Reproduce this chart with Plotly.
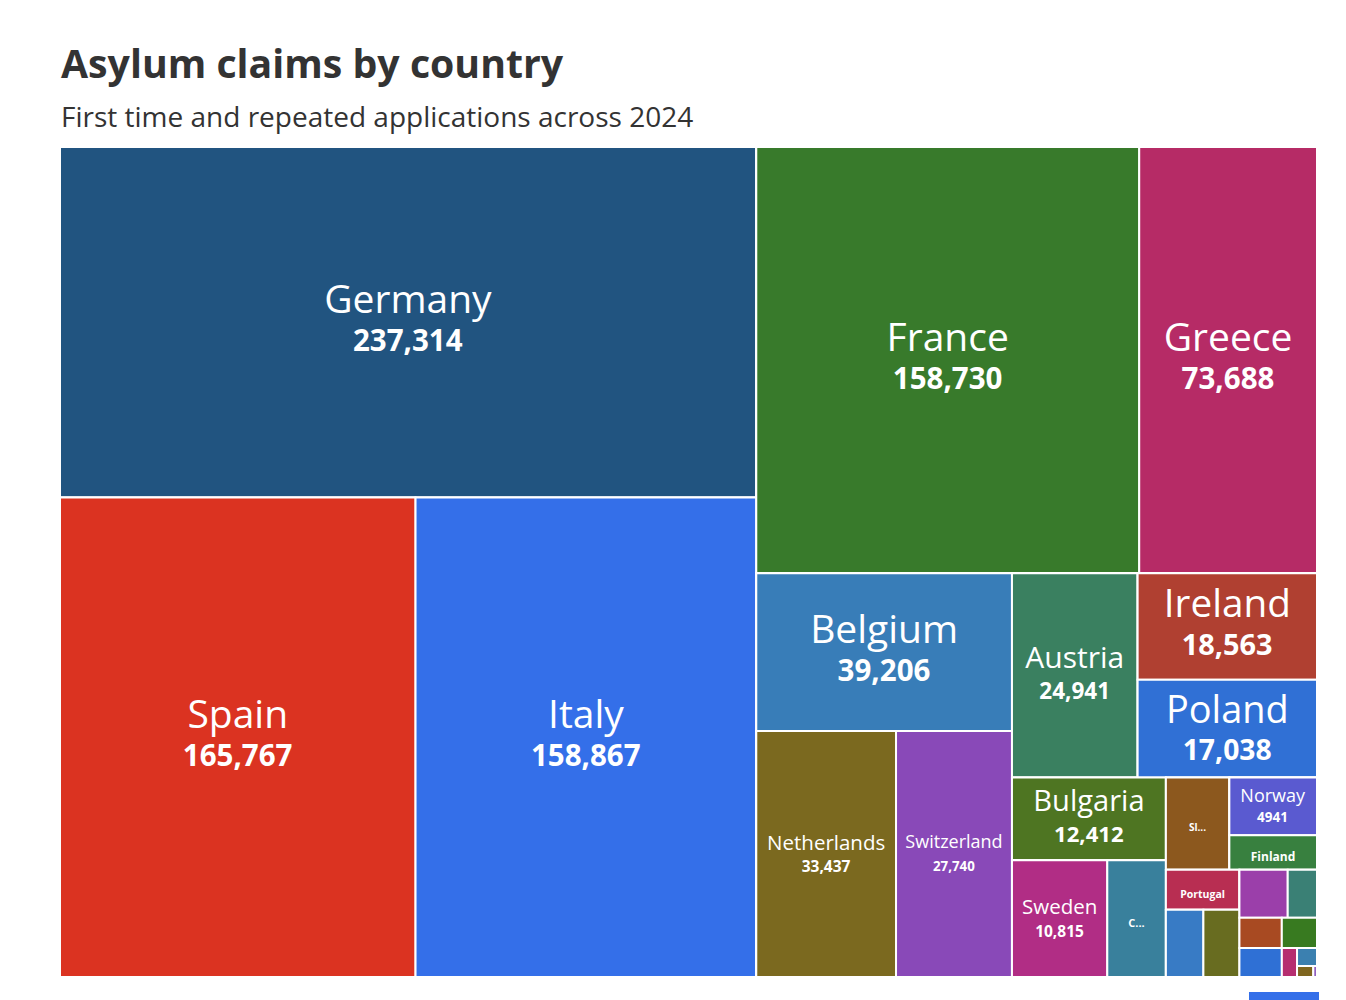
import plotly.graph_objects as go

# Leaves: country names and claims (small unlabelled tiles are estimated from their area)
countries = ["Germany","Spain","Italy","France","Greece","Belgium","Netherlands","Switzerland","Austria","Ireland","Poland","Bulgaria","Sweden","Cyprus","Slovenia","Norway","Finland","Portugal","Romania","Croatia","Luxembourg","Denmark","Czechia","Malta","Slovakia","Iceland","Hungary","Lithuania","Latvia"]
claims = [237314,165767,158867,158730,73688,39206,33437,27740,24941,18563,17038,12412,10815,6650,5695,4941,2924,2870,2450,2355,2260,1370,1240,1030,1200,430,350,175,40]
country_parent = ["A","SI","SI","B1","B1","B2L","NS","NS","R1","IP","IP","R2L","SC","SC","T","NF","NF","U1","PO","PO","V","V","W1","W1","W2","W2","W3","W4","W4"]

# Grouping of the tiles
groups = ["all","A","SI","B","B1","B2","B2L","NS","B2R","R1","IP","R2","R2L","SC","R2R","T","NF","U","U1","PO","U2","V","W1","W2","W3","W4"]
group_parent = ["","all","A","all","B","B","B2","B2L","B2","B2R","R1","B2R","R2","R2L","R2","R2R","T","R2R","U","U1","U","U2","U2","U2","W2","W3"]

# Displayed text
shown = ["Germany","Spain","Italy","France","Greece","Belgium","Netherlands","Switzerland","Austria","Ireland","Poland","Bulgaria","Sweden","C...","Sl...","Norway","Finland","Portugal"]
shown_values = ["237,314","165,767","158,867","158,730","73,688","39,206","33,437","27,740","24,941","18,563","17,038","12,412","10,815","","","4941","",""]

# Styles
name_sizes = [39,39,39,39,39,39,20.5,18,30,39.5,39.5,30,20.5,11,10,18,12,10.5]
value_sizes = [29.5,29.5,29.5,29.5,29.5,29.5,15.5,13.3,22.5,29.5,29.5,22.8,15.5,0,0,13.5,0,0]
base_sizes = [29.6,29.6,29.6,29.6,29.6,29.6,17,17,24.4,29.6,29.6,24.4,17.8,12,12,15.5,12,12]
# Invisible strut under (negative) or above (positive) the label, in px, to nudge the centred text
strut_shift = [-22,-22,-22,-22,-22,-22,-8.5,-8,-15.6,-22,-15,-15.6,-8.5,18,17,-8,19,18]
colors = ["#215480","#DB3321","#346FE9","#387A2B","#B62B66","#387DB8","#7B691F","#8949B8","#3A8060","#B04031","#3070D5","#4E7522","#B12D85","#39809C","#8C581E","#5A5AD0","#38803F","#B82E52","#387BC5","#686C20","#9B3FAA","#3A8075","#A84A22","#387A20","#2F70D5","#B62E70","#3B80B0","#7F661F","#9060C0"]
BOLD_ONLY = {"Finland","Portugal","C...","Sl..."}

texts, sizes = [], []
for i in range(len(countries)):
    if i >= len(shown):
        texts.append("")
        sizes.append(12)
        continue
    nm, val, ns, vs = shown[i], shown_values[i], name_sizes[i], value_sizes[i]
    sizes.append(base_sizes[i])
    strut = f'<span style="font-size:1px;baseline-shift:{strut_shift[i]}px">&nbsp;</span>'
    if nm in BOLD_ONLY:
        texts.append(f'<b><span style="font-size:{ns}px">{nm}</span></b>{strut}')
    else:
        texts.append(f'<span style="font-size:{ns}px">{nm}</span><br><b><span style="font-size:{vs}px">{val}</span></b>{strut}')

# Leaves come first so each group keeps its tiles in reading order
labels = countries + groups
parents = country_parent + group_parent
values = claims + [0]*len(groups)
all_text = texts + [""]*len(groups)
all_sizes = sizes + [12]*len(groups)
all_colors = colors + ["white"]*len(groups)

fig = go.Figure(go.Treemap(
    labels=labels,
    parents=parents,
    values=values,
    branchvalues="remainder",
    text=all_text,
    textinfo="text",
    textposition="middle center",
    textfont=dict(family="Open Sans", color="white", size=all_sizes),
    marker=dict(colors=all_colors, line=dict(color="white", width=2), pad=dict(t=0,l=0,r=0,b=0)),
    tiling=dict(packing="slice-dice", pad=0),
    pathbar=dict(visible=False),
    sort=False,
    hoverinfo="label+value",
))
fig.update_layout(
    width=1346, height=1000,
    margin=dict(l=60, r=29, t=147, b=23),
    paper_bgcolor="white",
    font=dict(family="Open Sans"),
    showlegend=False,
    annotations=[
        dict(text="<b>Asylum claims by country</b>", xref="paper", yref="paper", x=0, y=1, xanchor="left", yanchor="bottom",
             yshift=56, xshift=-1, showarrow=False, font=dict(size=39.25, color="#333333", family="Open Sans")),
        dict(text="First time and repeated applications across 2024", xref="paper", yref="paper", x=0, y=1, xanchor="left", yanchor="bottom",
             yshift=10, xshift=-1, showarrow=False, font=dict(size=28, color="#333333", family="Open Sans")),
    ],
    shapes=[dict(type="rect", xref="paper", yref="paper", x0=0.9459, x1=1.0016, y0=-0.0181, y1=-0.0277, line=dict(width=0), fillcolor="#346FE9")],
)
fig.write_html("out.html", config=dict(displayModeBar=False), post_script="document.body.style.margin='0';")
